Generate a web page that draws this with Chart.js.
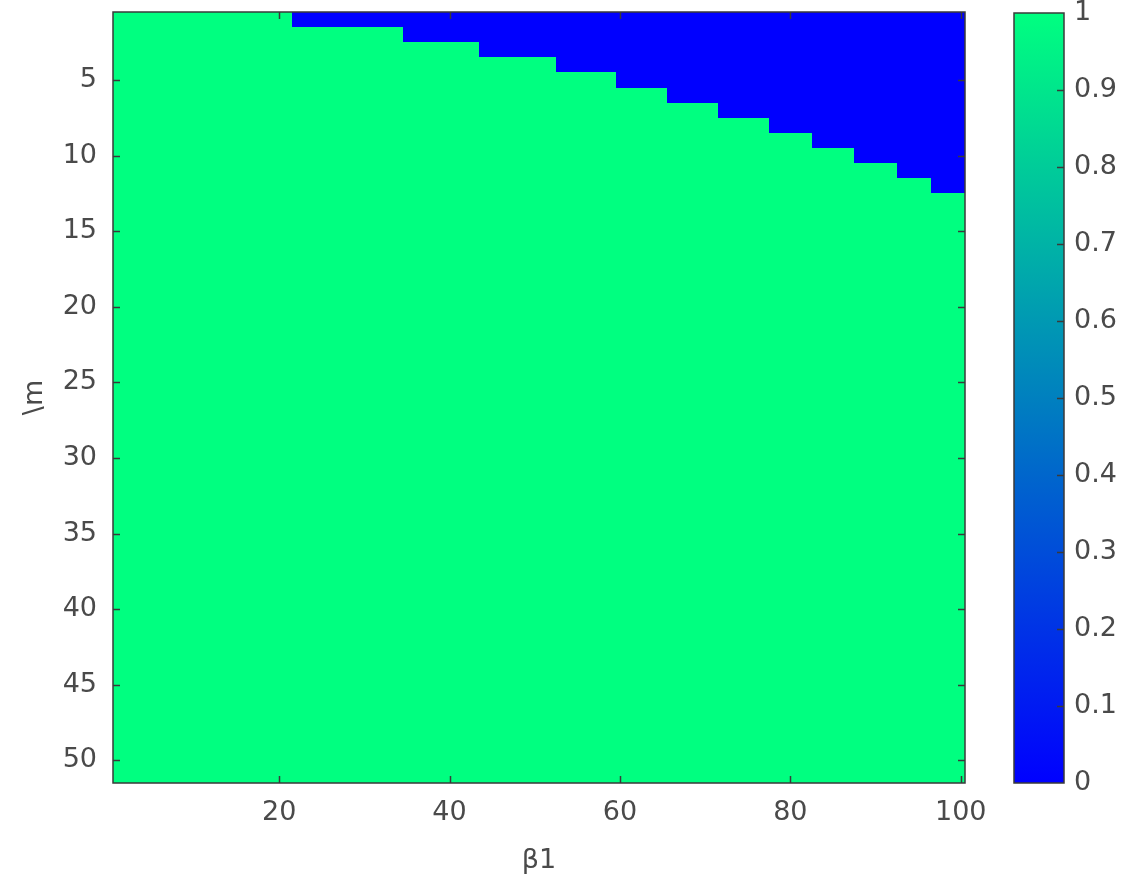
<!DOCTYPE html>
<html>
<head>
<meta charset="utf-8">
<script src="https://cdn.jsdelivr.net/npm/chart.js@4"></script>
<style>
  html, body { margin: 0; padding: 0; background: #fff; }
  #wrap { position: relative; width: 1140px; height: 884px; }
  #main { position: absolute; left: 0; top: 0; }
  #cbar { position: absolute; left: 990px; top: 0; }
</style>
</head>
<body>
<div id="wrap">
  <canvas id="main" width="1140" height="884"></canvas>
  <canvas id="cbar" width="150" height="884"></canvas>
</div>
<script>

// =======================
// DATA
// =======================

const nBeta = 100;   // columns (β1 = 1..100)
const nM = 51;       // rows (\m = 1..51)

// rows where the region switches to 0, and the first column that is 0
const boundaryRows = [1, 2, 3, 4, 5, 6, 7, 8, 9, 10, 11, 12];
const blueStart    = [22, 35, 44, 53, 60, 66, 72, 78, 83, 88, 93, 97];

const betaTicks = [20, 40, 60, 80, 100];
const mTicks = [5, 10, 15, 20, 25, 30, 35, 40, 45, 50];
const cbarTicks = [0, 0.1, 0.2, 0.3, 0.4, 0.5, 0.6, 0.7, 0.8, 0.9, 1];

// =======================
// STYLE
// =======================

const FONT = "'DejaVu Sans', sans-serif";
const FONT_SIZE = 27;
const TEXT = "#4a4a4a";
const AXIS = "#3a3a3a";
const TICK_LEN = 7;

// winter colormap: 0 -> blue, 1 -> spring green
function winter(v) {
  return "rgb(0," + Math.round(255 * v) + "," + Math.round(255 * (1 - v / 2)) + ")";
}

function cellValue(row, col) {
  const i = boundaryRows.indexOf(row);
  if (i < 0) return 1;
  return col < blueStart[i] ? 1 : 0;
}

const cells = [];
for (let r = 1; r <= nM; r++) {
  for (let c = 1; c <= nBeta; c++) {
    cells.push({ x: c, y: r, v: cellValue(r, c) });
  }
}

// =======================
// PLUGINS
// =======================

const heatmap = {
  id: "heatmap",
  beforeDatasetsDraw(chart) {
    const ctx = chart.ctx;
    const xs = chart.scales.x, ys = chart.scales.y;
    ctx.save();
    chart.data.datasets[0].data.forEach(d => {
      const x0 = Math.round(xs.getPixelForValue(d.x - 0.5));
      const x1 = Math.round(xs.getPixelForValue(d.x + 0.5));
      const ya = Math.round(ys.getPixelForValue(d.y - 0.5));
      const yb = Math.round(ys.getPixelForValue(d.y + 0.5));
      ctx.fillStyle = winter(d.v);
      ctx.fillRect(x0, Math.min(ya, yb), x1 - x0, Math.abs(yb - ya));
    });
    ctx.restore();
  }
};

const boxTicks = {
  id: "boxTicks",
  afterDatasetsDraw(chart) {
    const ctx = chart.ctx;
    const a = chart.chartArea;
    const xs = chart.scales.x, ys = chart.scales.y;
    ctx.save();
    ctx.strokeStyle = AXIS;
    ctx.lineWidth = 1.5;
    ctx.beginPath();
    xs.ticks.forEach(t => {
      const px = Math.round(xs.getPixelForValue(t.value)) + 0.5;
      ctx.moveTo(px, a.bottom); ctx.lineTo(px, a.bottom - TICK_LEN);
      ctx.moveTo(px, a.top); ctx.lineTo(px, a.top + TICK_LEN);
    });
    ys.ticks.forEach(t => {
      const py = Math.round(ys.getPixelForValue(t.value)) + 0.5;
      ctx.moveTo(a.left, py); ctx.lineTo(a.left + TICK_LEN, py);
      ctx.moveTo(a.right, py); ctx.lineTo(a.right - TICK_LEN, py);
    });
    ctx.stroke();
    ctx.strokeRect(a.left, a.top, a.right - a.left, a.bottom - a.top);
    ctx.restore();
  }
};

const cbarFrame = {
  id: "cbarFrame",
  afterDatasetsDraw(chart) {
    const ctx = chart.ctx;
    const a = chart.chartArea;
    const ys = chart.scales.y;
    ctx.save();
    ctx.strokeStyle = AXIS;
    ctx.lineWidth = 1.5;
    ctx.beginPath();
    ys.ticks.forEach(t => {
      if (t.value <= 0 || t.value >= 1) return;
      const py = Math.round(ys.getPixelForValue(t.value)) + 0.5;
      ctx.moveTo(a.right, py); ctx.lineTo(a.right - TICK_LEN, py);
    });
    ctx.stroke();
    ctx.strokeRect(a.left, a.top, a.right - a.left, a.bottom - a.top);
    ctx.restore();
  }
};

// =======================
// MAIN CHART
// =======================

new Chart(document.getElementById("main"), {
  type: "scatter",
  data: {
    datasets: [{
      data: cells,
      pointRadius: 0,
      pointHoverRadius: 0
    }]
  },
  options: {
    responsive: false,
    animation: false,
    events: [],
    layout: { padding: { left: 0, top: 12, right: 175, bottom: 0 } },
    plugins: { legend: { display: false }, tooltip: { enabled: false } },
    scales: {
      x: {
        type: "linear",
        min: 0.5,
        max: 100.5,
        afterBuildTicks: s => { s.ticks = betaTicks.map(v => ({ value: v })); },
        afterFit: s => { s.height = 101; s.paddingLeft = 0; s.paddingRight = 0; },
        grid: { display: false, drawTicks: false },
        border: { display: false },
        ticks: {
          font: { family: FONT, size: FONT_SIZE },
          color: TEXT,
          padding: 14,
          maxRotation: 0,
          autoSkip: false
        },
        title: {
          display: true,
          text: "β1",
          font: { family: FONT, size: FONT_SIZE },
          color: TEXT,
          padding: { top: 0, bottom: 7 }
        }
      },
      y: {
        type: "linear",
        reverse: true,
        min: 0.5,
        max: 51.5,
        afterBuildTicks: s => { s.ticks = mTicks.map(v => ({ value: v })); },
        afterFit: s => { s.width = 113; s.paddingTop = 0; s.paddingBottom = 0; },
        grid: { display: false, drawTicks: false },
        border: { display: false },
        ticks: {
          font: { family: FONT, size: FONT_SIZE },
          color: TEXT,
          padding: 16,
          autoSkip: false
        },
        title: {
          display: true,
          text: "\\m",
          font: { family: FONT, size: FONT_SIZE },
          color: TEXT,
          padding: { top: 19, bottom: 0 }
        }
      }
    }
  },
  plugins: [heatmap, boxTicks]
});

// =======================
// COLORBAR
// =======================

function cbarGradient(chart) {
  const a = chart.chartArea;
  if (!a) return winter(0.5);
  const g = chart.ctx.createLinearGradient(0, a.bottom, 0, a.top);
  cbarTicks.forEach(v => g.addColorStop(v, winter(v)));
  return g;
}

new Chart(document.getElementById("cbar"), {
  type: "bar",
  data: {
    labels: [""],
    datasets: [{
      data: [[0, 1]],
      backgroundColor: c => cbarGradient(c.chart),
      borderWidth: 0,
      barPercentage: 1,
      categoryPercentage: 1
    }]
  },
  options: {
    responsive: false,
    animation: false,
    events: [],
    layout: { padding: { left: 24, top: 13, right: 0, bottom: 101 } },
    plugins: { legend: { display: false }, tooltip: { enabled: false } },
    scales: {
      x: { display: false },
      y: {
        position: "right",
        min: 0,
        max: 1,
        afterBuildTicks: s => { s.ticks = cbarTicks.map(v => ({ value: v })); },
        afterFit: s => { s.width = 76; s.paddingTop = 0; s.paddingBottom = 0; },
        grid: { display: false, drawTicks: false },
        border: { display: false },
        ticks: {
          font: { family: FONT, size: FONT_SIZE },
          color: TEXT,
          padding: 10,
          autoSkip: false,
          callback: v => String(Math.round(v * 10) / 10)
        }
      }
    }
  },
  plugins: [cbarFrame]
});

</script>
</body>
</html>
